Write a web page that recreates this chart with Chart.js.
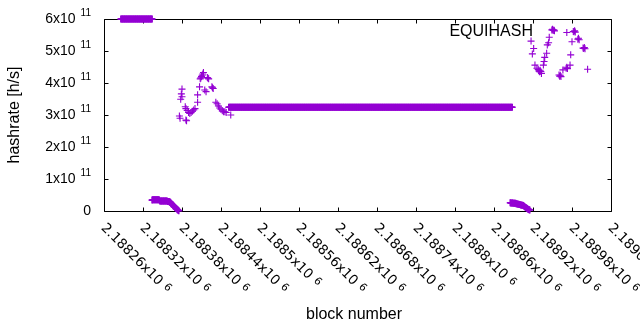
<!DOCTYPE html>
<html>
<head>
<meta charset="utf-8">
<script src="https://cdn.jsdelivr.net/npm/chart.js@4"></script>
<style>
  html, body { margin: 0; padding: 0; background: #fff; }
</style>
</head>
<body>
<canvas id="hashChart" width="640" height="330"></canvas>
<script>
// axis range and ticks
const blockMin = 2188260;
const blockMax = 2189040;
const xTicks = [2188260, 2188320, 2188380, 2188440, 2188500, 2188560, 2188620,
                2188680, 2188740, 2188800, 2188860, 2188920, 2188980, 2189040];
const yTicks = [0, 1e11, 2e11, 3e11, 4e11, 5e11, 6e11];

// stretches where the hashrate stays flat: [first block, last block, h/s]
const flatRuns = [
  [2188286, 2188334, 6.0e11],
  [2188452, 2188888, 3.24e11]
];

// low tails, one value per block (units of 1e11 h/s)
const tailAStart = 2188334;
const tailA = [0.34, 0.35, 0.35, 0.35, 0.35, 0.35, 0.35, 0.35, 0.35, 0.35, 0.35, 0.34,
               0.31, 0.31, 0.31, 0.31, 0.31, 0.31, 0.31, 0.31, 0.31, 0.31, 0.31, 0.31, 0.30, 0.30, 0.30, 0.29,
               0.27, 0.25, 0.22, 0.20, 0.18, 0.16, 0.14, 0.12, 0.10, 0.08, 0.06, 0.04, 0.02, 0.01];
const tailBStart = 2188885;
const tailB = [0.26, 0.25, 0.25, 0.25, 0.25, 0.24, 0.24, 0.24, 0.24, 0.23, 0.23,
               0.22, 0.21, 0.21, 0.20, 0.20, 0.19, 0.19, 0.18, 0.18, 0.17,
               0.16, 0.14, 0.12, 0.11, 0.09, 0.08, 0.06, 0.05, 0.04, 0.03];

// scattered readings (units of 1e11 h/s)
const scatterBlocks = [
  2188376, 2188377, 2188378, 2188380, 2188380, 2188379, 2188386, 2188387,
  2188385, 2188386, 2188388, 2188390, 2188392, 2188394, 2188396, 2188398, 2188400,
  2188404, 2188404, 2188407, 2188408, 2188409, 2188410, 2188411, 2188412, 2188413,
  2188415, 2188417, 2188419, 2188420, 2188421, 2188426, 2188427, 2188428,
  2188432, 2188434, 2188436, 2188438, 2188440, 2188442, 2188444, 2188446, 2188448, 2188455,
  2188917, 2188919, 2188921, 2188923, 2188926, 2188928, 2188929, 2188930, 2188931, 2188932,
  2188933, 2188936, 2188937, 2188938, 2188941, 2188942, 2188944, 2188945,
  2188949, 2188950, 2188951, 2188952, 2188953,
  2188960, 2188961, 2188962, 2188963, 2188966, 2188971, 2188972, 2188973, 2188977, 2188978,
  2188980, 2188972, 2188982, 2188983, 2188984, 2188985, 2188989, 2188990, 2188991,
  2188997, 2188998, 2188999, 2189000, 2189004
];
const scatterValues = [
  2.97, 2.90, 3.49, 3.57, 3.81, 3.66, 2.84, 2.82,
  3.26, 3.20, 3.14, 3.08, 3.05, 3.08, 3.12, 3.16, 3.20,
  3.40, 3.63, 3.88, 4.13, 4.16, 4.20, 4.24, 4.28, 4.33,
  3.78, 3.73, 4.17, 4.15, 4.13, 3.88, 3.85, 3.83,
  3.40, 3.35, 3.28, 3.22, 3.18, 3.13, 3.10, 3.10, 3.08, 3.00,
  5.31, 4.91, 5.08, 4.56, 4.46, 4.42, 4.38, 4.35, 4.40, 4.36,
  4.30, 4.56, 4.67, 4.80, 4.93, 5.19, 5.26, 5.43,
  5.66, 5.68, 5.64, 5.66, 5.63,
  4.25, 4.21, 4.24, 4.20, 4.41, 4.46, 4.49, 4.45, 4.56, 4.88,
  5.29, 5.58, 5.61, 5.60, 5.63, 5.59, 5.37, 5.40, 5.35,
  5.09, 5.08, 5.11, 5.07, 4.43
];

const seriesLabel = 'EQUIHASH';
const purple = '#9400d3';

const densePoints = [];
flatRuns.forEach(([first, last, v]) => {
  for (let b = first; b <= last; b++) densePoints.push({ x: b, y: v });
});
tailA.forEach((v, i) => densePoints.push({ x: tailAStart + i, y: v * 1e11 }));
tailB.forEach((v, i) => densePoints.push({ x: tailBStart + i, y: v * 1e11 }));
const scatterPoints = scatterBlocks.map((b, i) => ({ x: b, y: scatterValues[i] * 1e11 }));

// gnuplot-like frame, inward ticks and tick labels with superscripts
const gnuplotFrame = {
  id: 'gnuplotFrame',
  beforeDatasetsDraw(chart) {
    const { ctx, chartArea: a, scales: { x, y } } = chart;
    const L = Math.round(a.left) + 0.5, R = Math.round(a.right) + 0.5;
    const T = Math.round(a.top) + 0.5, B = Math.round(a.bottom) + 0.5;
    const tl = 4;
    ctx.save();
    ctx.strokeStyle = '#000';
    ctx.lineWidth = 1;
    ctx.beginPath();
    ctx.rect(L, T, R - L, B - T);
    xTicks.forEach(t => {
      const px = Math.round(x.getPixelForValue(t)) + 0.5;
      ctx.moveTo(px, B); ctx.lineTo(px, B - tl);
      ctx.moveTo(px, T); ctx.lineTo(px, T + tl);
    });
    yTicks.forEach(t => {
      const py = Math.round(y.getPixelForValue(t)) + 0.5;
      ctx.moveTo(L, py); ctx.lineTo(L + tl, py);
      ctx.moveTo(R, py); ctx.lineTo(R - tl, py);
    });
    ctx.stroke();

    ctx.fillStyle = '#000';
    // y tick labels
    ctx.textBaseline = 'middle';
    ctx.textAlign = 'right';
    yTicks.forEach(t => {
      const py = y.getPixelForValue(t);
      if (t === 0) {
        ctx.font = '14px "Liberation Sans", Arial, sans-serif';
        ctx.fillText('0', 91, py);
        return;
      }
      ctx.font = '10px "Liberation Sans", Arial, sans-serif';
      const sup = '11';
      const sw = ctx.measureText(sup).width;
      ctx.fillText(sup, 91, py - 6);
      ctx.font = '14px "Liberation Sans", Arial, sans-serif';
      ctx.fillText((t / 1e11) + 'x10', 91 - sw - 5, py);
    });

    // x tick labels, rotated clockwise
    xTicks.forEach(t => {
      const px = x.getPixelForValue(t);
      const main = String(+(t / 1e6).toFixed(5)) + 'x10';
      ctx.save();
      ctx.translate(px - 1, 226);
      ctx.rotate(Math.PI / 4);
      ctx.textAlign = 'left';
      ctx.textBaseline = 'middle';
      ctx.font = '13.5px "DejaVu Sans", sans-serif';
      ctx.fillText(main, 0, 0);
      const w = ctx.measureText(main).width;
      ctx.font = '10.5px "DejaVu Sans", sans-serif';
      ctx.fillText('6', w + 5, -2);
      ctx.restore();
    });

    // axis titles
    ctx.font = '16px "Liberation Sans", Arial, sans-serif';
    ctx.textAlign = 'center';
    ctx.fillText('block number', 354, 315);
    ctx.save();
    ctx.translate(15, 115);
    ctx.rotate(-Math.PI / 2);
    ctx.fillText('hashrate [h/s]', 0, 0);
    ctx.restore();

    // key
    ctx.textAlign = 'right';
    ctx.fillText(seriesLabel, 533, 32);
    ctx.restore();
  }
};

const pointStyle = {
  pointStyle: 'cross',
  pointRadius: 3.5,
  borderColor: purple,
  backgroundColor: purple,
  clip: false
};

new Chart(document.getElementById('hashChart'), {
  type: 'scatter',
  data: {
    datasets: [
      { label: seriesLabel, data: densePoints, borderWidth: 1.6, ...pointStyle },
      { label: seriesLabel, data: scatterPoints, borderWidth: 1.1, ...pointStyle }
    ]
  },
  options: {
    responsive: false,
    animation: false,
    devicePixelRatio: 1,
    layout: { padding: { left: 104, right: 29, top: 19, bottom: 119 } },
    plugins: { legend: { display: false }, tooltip: { enabled: false } },
    scales: {
      x: { type: 'linear', display: false, min: blockMin, max: blockMax },
      y: { type: 'linear', display: false, min: 0, max: 6e11 }
    }
  },
  plugins: [gnuplotFrame]
});
</script>
</body>
</html>
